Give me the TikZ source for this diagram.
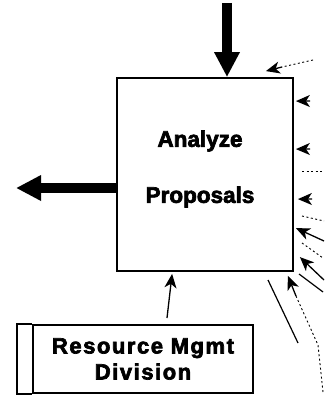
\documentclass[tikz,border=0pt]{standalone}
\usepackage{fontspec}
\setmainfont{Liberation Sans}
\newfontfamily\heavyfont{Liberation Sans}[UprightFont=*-Bold, FakeBold=3]
\newfontfamily\heavywide{Liberation Sans}[UprightFont=*-Bold, FakeBold=3, LetterSpace=7]
\usetikzlibrary{arrows.meta,calc}
\begin{document}
\begin{tikzpicture}[x=1pt,y=-1pt,
  box/.style={draw, line width=1.8pt, inner sep=0pt},
  lbl/.style={font=\fontsize{22.5}{26}\selectfont\heavyfont, align=center, inner sep=0pt},
  lblwide/.style={font=\fontsize{22}{25}\selectfont\heavywide, align=center, inner sep=0pt},
  heavy/.style={line width=10pt, -{Triangle[length=25pt,width=24pt]}},
  thin/.style={line width=1.3pt, -{Stealth[length=14pt,width=12pt,inset=4pt]}},
  faint/.style={line width=0.9pt, dash pattern=on 2pt off 2.5pt},
  plain/.style={line width=1.2pt},
]
\useasboundingbox[fill=white] (0,0) rectangle (324,396);

% activity box
\node[box, minimum width=176pt, minimum height=193pt] (proc) at (205,174.5) {};
\node[lbl] (ptxt) at (200,169) {Analyze\\[30pt]Proposals};

% mechanism box with side strip
\node[box, lblwide, minimum width=220pt, minimum height=68pt] (res) at (143,359)
  {Resource Mgmt\\[1pt]Division};
\draw[box] (res.north west) -- ++(-15,0) |- (res.south west);

% input and output
\coordinate (inTop) at (227,3);
\draw[heavy] (inTop) -- (inTop |- proc.north);
\coordinate (outEnd) at (16,188);
\draw[heavy] (proc.west |- outEnd) -- (outEnd);

% mechanism arrow
\coordinate (mTail) at (167,318);
\draw[thin] (mTail) -- ($(proc.south west)+(56,2)$);

% control arrows at the top right corner
\coordinate (aTail) at (313,60);
\coordinate (aStub) at (282,67);
\draw[faint] (aTail) -- (aStub);
\draw[thin] (aStub) -- ($(proc.north east)+(-28,-6)$);

% short arrows on the right side
\coordinate (bStub) at (310,101);
\draw[thin] (bStub) -- ($(proc.north east)+(2,24)$);
\coordinate (cStub) at (310,149);
\draw[thin] (cStub) -- ($(proc.north east)+(2,72)$);
\coordinate (eStub) at (312,199);
\draw[thin] (eStub) -- ($(proc.north east)+(4,122)$);

% dashed leads on the right
\coordinate (d1) at (302,171); \coordinate (d2) at (322,171);
\draw[faint] (d1) -- (d2);
\coordinate (f1) at (302,216); \coordinate (f2) at (324,221);
\draw[faint] (f1) -- (f2);
\coordinate (h1) at (302,243); \coordinate (h2) at (323,258);
\draw[faint] (h1) -- (h2);

% arrows reaching the lower right part of the box
\coordinate (gTail) at (324,241);
\draw[thin] (gTail) -- ($(proc.north east)+(2,151)$);
\coordinate (iTail) at (324,280);
\draw[thin] (iTail) -- ($(proc.north east)+(6,180)$);
\coordinate (j1) at (299,274); \coordinate (j2) at (323,292);
\draw[plain] (j1) -- (j2);

% long leads below the corner
\coordinate (kStub) at (296,296);
\coordinate (kMid) at (318,345);
\coordinate (kEnd) at (323,392);
\draw[faint] (kEnd) -- (kMid) -- (kStub);
\draw[thin] (kStub) -- ($(proc.south east)+(-6,4)$);
\coordinate (l1) at (268,280); \coordinate (l2) at (298,343);
\draw[plain] (l1) -- (l2);
\end{tikzpicture}
\end{document}
